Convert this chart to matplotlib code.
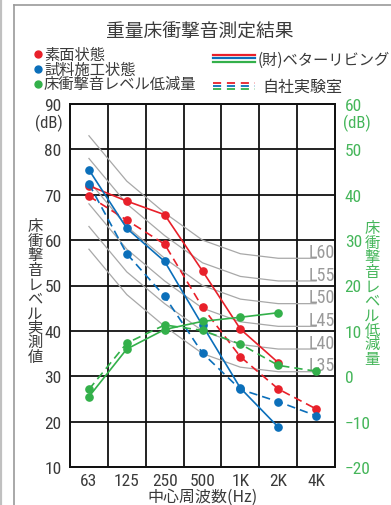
import matplotlib
matplotlib.use("Agg")
import matplotlib.pyplot as plt
from matplotlib.lines import Line2D
from matplotlib import font_manager
from matplotlib.font_manager import FontProperties
import numpy as np

# data
freqs = ['63', '125', '250', '500', '1K', '2K', '4K']

# left axis: floor impact sound level (dB)
bare_bl = [72.0, 68.6, 65.6, 53.2, 40.4, 33.0]          # 素面状態 / ベターリビング
bare_own = [69.7, 64.4, 59.1, 45.2, 34.3, 27.2, 22.8]   # 素面状態 / 自社実験室
treated_bl = [75.5, 62.6, 55.3, 41.2, 27.4, 18.8]       # 試料施工状態 / ベターリビング
treated_own = [72.4, 57.0, 47.6, 35.1, 27.1, 24.4, 21.3]
# right axis: reduction (dB)
reduction_bl = [-4.5, 6.0, 10.3, 12.1, 13.0, 14.0]
reduction_own = [-2.9, 7.3, 11.3, 10.1, 7.1, 2.4, 1.1]

# L-number reference curves
l_numbers = [60, 55, 50, 45, 40, 35]
l60_curve = [83, 73, 66, 60, 57, 56, 56]

RED = '#e8202a'
BLUE = '#0b6fba'
GREEN = '#33b04a'
GREEN_TXT = '#45b65a'
TXT = '#3a3a3a'
GRAY = '#a8a8a8'

# look for a narrow latin face for the numbers
files = [f.fname for f in font_manager.fontManager.ttflist]
num_file = None
for key in ['LiberationSansNarrow-Regular', 'RobotoCondensed-Regular', 'Roboto_Condensed-Regular',
            'DejaVuSansCondensed.ttf', 'OpenSans_Condensed-Regular', 'OpenSansCondensed']:
    hits = [p for p in files if key in p]
    if hits:
        num_file = hits[0]
        break


def numfp(size):
    if num_file:
        return FontProperties(fname=num_file, size=size)
    return FontProperties(family='Liberation Sans', size=size)


JP = 'Noto Sans CJK JP'
plt.rcParams['font.family'] = [JP, 'DejaVu Sans']

W, H = 391, 506
fig = plt.figure(figsize=(W / 100, H / 100), dpi=100)


def fx(x):
    return x / W


def fy(y):
    return 1 - y / H


# outer frame
fig.add_artist(Line2D([fx(1), fx(1)], [0, 1], color='#c0c0c0', lw=1.6))
fig.add_artist(Line2D([fx(14), fx(14)], [0, fy(6)], color='#9a9a9a', lw=1.2))
fig.add_artist(Line2D([fx(14), 1], [fy(6), fy(6)], color='#9a9a9a', lw=1.2))

ax = fig.add_axes([fx(70), fy(468), (335 - 70) / W, (468 - 105) / H])
ax2 = ax.twinx()

x = np.arange(len(freqs))

# L curves
for n in l_numbers:
    vals = np.array(l60_curve) - (60 - n)
    ax.plot(x, vals, color=GRAY, lw=0.9, zorder=2)
    ax.text(6.5, vals[-1] + 0.3, f'L{n}', ha='right', va='baseline',
            fontproperties=numfp(13), color='#9a9a9a', zorder=3)

ms = 5.2
lw = 1.2
dash = (0, (5, 3))
ax.plot(x[:6], bare_bl, color=RED, lw=lw, marker='o', ms=ms, zorder=4)
ax.plot(x, bare_own, color=RED, lw=lw, ls=dash, marker='o', ms=ms, zorder=4)
ax.plot(x[:6], treated_bl, color=BLUE, lw=lw, marker='o', ms=ms, zorder=4)
ax.plot(x, treated_own, color=BLUE, lw=lw, ls=dash, marker='o', ms=ms, zorder=4)
ax2.plot(x[:6], reduction_bl, color=GREEN, lw=lw, marker='o', ms=ms, zorder=4)
ax2.plot(x, reduction_own, color=GREEN, lw=lw, ls=dash, marker='o', ms=ms, zorder=4)

ax.set_xlim(-0.5, 6.5)
ax.set_ylim(10, 90)
ax2.set_ylim(-20, 60)
ax.set_yticks(range(10, 91, 10))
ax2.set_yticks(range(-20, 61, 10))
ax.set_xticks(x)
ax.set_xticklabels(freqs)
ax.set_xticks(np.arange(0.5, 6, 1), minor=True)
ax.grid(which='minor', axis='x', color='#111111', lw=1.3)
ax.grid(which='major', axis='y', color='#111111', lw=1.3)
ax.set_axisbelow(True)
ax.tick_params(which='both', length=0)
ax.tick_params(axis='y', pad=6, labelcolor=TXT)
ax.tick_params(axis='x', pad=4, labelcolor=TXT)
ax2.tick_params(length=0, pad=7, labelcolor=GREEN_TXT)
tick_size = 12.5 if num_file else 11
for lab in ax.get_xticklabels() + ax.get_yticklabels() + ax2.get_yticklabels():
    lab.set_fontproperties(numfp(tick_size))
for a in (ax, ax2):
    for s in a.spines.values():
        s.set_color('#111111')
        s.set_linewidth(1.3)

# units
fig.text(fx(63), fy(123), '(dB)', ha='right', va='center', fontproperties=numfp(12), color=TXT)
fig.text(fx(343), fy(123), '(dB)', ha='left', va='center', fontproperties=numfp(12), color=GREEN_TXT)

# vertical axis titles
fig.text(fx(35), fy(292), '\n'.join('床衝撃音レベル実測値'), ha='center', va='center',
         fontsize=11, color=TXT, linespacing=0.81)
fig.text(fx(372), fy(294), '\n'.join('床衝撃音レベル低減量'), ha='center', va='center',
         fontsize=11, color=GREEN_TXT, linespacing=0.81)

fig.text(fx(203), fy(497), '中心周波数(Hz)', ha='center', va='center', fontsize=11.5, color=TXT)

# title
fig.text(fx(200), fy(31), '重量床衝撃音測定結果', ha='center', va='center', fontsize=13.5, color=TXT)

# legend (left): one block of text, dots beside each row
leg_labels = ['素面状態', '試料施工状態', '床衝撃音レベル低減量']
leg_colors = [RED, BLUE, GREEN]
for i, c in enumerate(leg_colors):
    fig.add_artist(Line2D([fx(38)], [fy(55 + 15 * i)], marker='o', ms=5, color=c, lw=0))
fig.text(fx(44), fy(70), '\n'.join(leg_labels), ha='left', va='center', fontsize=11,
         color=TXT, linespacing=0.84)

# legend (right)
for i, c in enumerate(leg_colors):
    yy = 55.5 + 3.8 * i
    fig.add_artist(Line2D([fx(213), fx(255)], [fy(yy), fy(yy)], color=c, lw=1.6))
    yd = 83.5 + 3.4 * i
    fig.add_artist(Line2D([fx(213), fx(255)], [fy(yd), fy(yd)], color=c, lw=1.3,
                          ls=(0, (4.5, 3.2))))
fig.text(fx(258), fy(60), '(財)ベターリビング', ha='left', va='center', fontsize=11, color=TXT)
fig.text(fx(262), fy(87), '自社実験室', ha='left', va='center', fontsize=11.5, color=TXT)

fig.savefig('out.png', dpi=100)
